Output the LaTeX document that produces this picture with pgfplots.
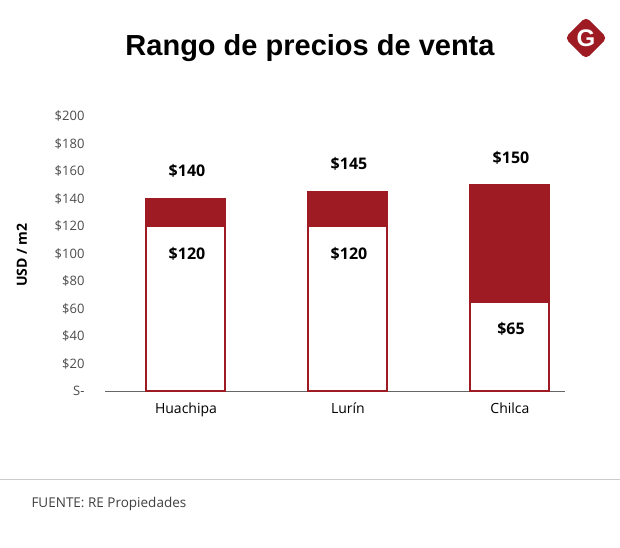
\documentclass[border=0pt]{standalone}
\usepackage{pgfplots}
\pgfplotsset{compat=1.18}
\usepackage{fontspec}
\setmainfont{Open Sans}
\newfontfamily\titlefont{Liberation Sans}
\definecolor{rojo}{HTML}{9E1B24}
\begin{document}
\begin{tikzpicture}
\begin{scope}[x=1pt,y=1pt,shift={(-105pt,-156pt)}]
\path[use as bounding box,fill=white] (0,0) rectangle (620,547);
\node[font=\titlefont\bfseries\fontsize{29}{32}\selectfont] at (310,499) {Rango de precios de venta};
\node[fill=rojo,rotate=45,minimum size=30pt,rounded corners=5pt,inner sep=0pt] at (586,509) {};
\node[text=white,font=\titlefont\bfseries\fontsize{24}{26}\selectfont] at (586,509) {G};
\draw[gray!40,line width=1pt] (0,68) -- (620,68);
\node[anchor=west,text=black!75,font=\fontsize{13.5}{15}\selectfont] at (28,43) {FUENTE: RE Propiedades};
\foreach \v in {0,20,...,200}{
  \node[anchor=east,text=black!70,font=\fontsize{13}{15}\selectfont] at (88,156+1.375*\v) {\ifnum\v=0 S-\else\$\v\fi};}
\node[rotate=90,font=\bfseries\fontsize{14}{16}\selectfont] at (22,292) {USD / m2};
\end{scope}
\begin{axis}[anchor=south west,scale only axis,width=460pt,height=275pt,
  ybar stacked,bar width=79pt,
  xmin=-0.5,xmax=2.34,ymin=0,ymax=200,
  xtick={0,1,2},xticklabels={Huachipa,Lurín,Chilca},
  ytick=\empty,
  axis y line=none, axis x line*=bottom, x axis line style={-,black!60},
  major tick length=0pt,
  xticklabel style={font=\fontsize{14}{16}\selectfont,yshift=-8pt},
  clip=false]
\addplot[draw=rojo,fill=white,line width=2pt] coordinates {(0,120) (1,120) (2,65)};
\addplot[draw=rojo,fill=rojo,line width=2pt] coordinates {(0,20) (1,25) (2,85)};
\end{axis}
\begin{scope}[x=1pt,y=1pt,shift={(-105pt,-156pt)}]
\tikzset{lab/.style={font=\bfseries\fontsize{16}{18}\selectfont}}
\node[lab] at (187,376) {\$140};
\node[lab] at (349,383) {\$145};
\node[lab] at (511,389) {\$150};
\node[lab] at (187,293) {\$120};
\node[lab] at (349,293) {\$120};
\node[lab] at (511,218) {\$65};
\end{scope}
\end{tikzpicture}
\end{document}
